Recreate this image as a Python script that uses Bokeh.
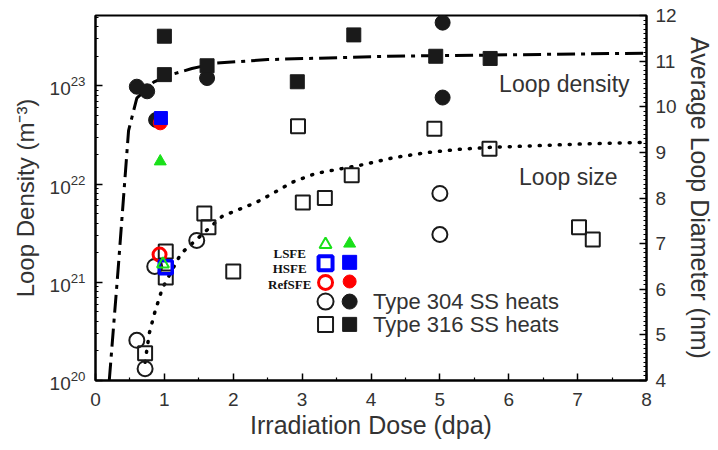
from bokeh.plotting import figure
from bokeh.models import Range1d, LinearAxis, FixedTicker, LogTicker, LinearScale
from bokeh.core.properties import value
from bokeh.embed import file_html
from bokeh.resources import INLINE

# ---------------- data ----------------
# loop density (left axis, m^-3)
d316_dens_dose = [1.0, 1.0, 1.62, 2.93, 3.75, 4.94, 5.73]
d316_dens = [3.2e23, 1.3e23, 1.6e23, 1.1e23, 3.3e23, 2.0e23, 1.9e23]
d304_dens_dose = [0.6, 0.75, 0.88, 1.62, 5.04, 5.04]
d304_dens = [9.8e22, 8.8e22, 4.5e22, 1.2e23, 4.4e23, 7.6e22]
# loop diameter (right axis, nm)
d304_size_dose = [0.6, 0.72, 0.86, 1.47, 5.0, 5.0]
d304_size = [4.88, 4.26, 6.5, 7.07, 8.1, 7.2]
d316_size_dose = [0.72, 1.02, 1.02, 1.58, 1.64, 2.0, 2.94, 3.01, 3.33, 3.72, 4.92, 5.72, 7.02, 7.22]
d316_size = [4.6, 6.83, 6.26, 7.66, 7.36, 6.39, 9.57, 7.9, 8.0, 8.5, 9.52, 9.08, 7.36, 7.09]
# SFE alloys
ref_dens_dose, ref_dens = [0.94], [4.2e22]
hsfe_dens_dose, hsfe_dens = [0.95], [4.7e22]
lsfe_dens_dose, lsfe_dens = [0.94], [1.7e22]
ref_size_dose, ref_size = [0.93], [6.76]
hsfe_size_dose, hsfe_size = [1.02], [6.48]
lsfe_size_dose, lsfe_size = [0.98], [6.55]
# trend curves
dens_curve_dose = [0.2, 0.33, 0.48, 0.6, 0.85, 1.1, 1.4, 1.75, 2.5, 4.25, 8.0]
dens_curve = [1.0e20, 1.4e21, 3.5e22, 7.5e22, 1.1e23, 1.3e23, 1.5e23, 1.7e23, 1.85e23, 2.0e23, 2.15e23]
size_curve_dose = [0.72, 0.78, 0.86, 0.97, 1.24, 1.84, 2.05, 2.33, 2.55, 2.85, 3.2, 3.82, 4.35, 4.83, 5.3, 5.73, 6.12, 7.0, 8.0]
size_curve = [4.4, 5.03, 5.49, 6.02, 6.78, 7.6, 7.73, 7.9, 8.08, 8.34, 8.54, 8.71, 8.89, 9.0, 9.07, 9.11, 9.13, 9.18, 9.22]

x_ticks = [0, 1, 2, 3, 4, 5, 6, 7, 8]
x_minor = [0.5, 1.5, 2.5, 3.5, 4.5, 5.5, 6.5, 7.5]
size_ticks = [4, 5, 6, 7, 8, 9, 10, 11, 12]

GREEN = "#19e019"
BLUE = "#0000ff"
RED = "#ff0000"
BLACK = "#1a1a1a"
FONT = "Liberation Sans"
TXT = "#333333"

p = figure(width=716, height=448, output_backend="svg", toolbar_location=None,
           y_axis_type="log", x_range=Range1d(0, 8), y_range=Range1d(1e20, 5.2e23),
           min_border_left=95, min_border_right=66, min_border_top=15, min_border_bottom=68)
p.extra_y_ranges = {"size": Range1d(4, 12)}
p.extra_y_scales = {"size": LinearScale()}
p.xgrid.visible = False
p.ygrid.visible = False
p.outline_line_color = "black"
p.outline_line_width = 2
p.background_fill_color = "white"
p.border_fill_color = "white"

right = LinearAxis(y_range_name="size")
p.add_layout(right, "right")

p.xaxis.axis_label = "Irradiation Dose (dpa)"
p.yaxis[0].axis_label = "Loop Density (m\u207b\u00b3)"
right.axis_label = "Average Loop Diameter (nm)"

p.xaxis.ticker = FixedTicker(ticks=x_ticks, minor_ticks=x_minor)
right.ticker = FixedTicker(ticks=size_ticks,
                           minor_ticks=[4 + i * 0.1 for i in range(81)])
p.yaxis[0].ticker = LogTicker(num_minor_ticks=10, desired_num_ticks=4)

for ax in [p.xaxis[0], p.yaxis[0], right]:
    ax.major_tick_in = 7
    ax.major_tick_out = 0
    ax.minor_tick_in = 3
    ax.minor_tick_out = 0
    ax.axis_line_width = 2
    ax.major_tick_line_width = 1.5
    ax.minor_tick_line_width = 1.2
    ax.major_label_text_font = FONT
    ax.major_label_text_font_size = "19px"
    ax.major_label_text_color = TXT
    ax.axis_label_text_font = FONT
    ax.axis_label_text_font_style = "normal"
    ax.axis_label_text_color = TXT
p.xaxis.axis_label_text_font_size = "25px"
p.yaxis[0].axis_label_text_font_size = "24px"
right.axis_label_text_font_size = "25px"
p.xaxis.major_label_standoff = 12
p.xaxis.axis_label_standoff = 2
p.yaxis[0].major_label_standoff = 10
p.yaxis[0].axis_label_standoff = 8
right.major_label_standoff = 9
right.axis_label_standoff = 6

# trend curves
p.line(dens_curve_dose, dens_curve, line_color="black", line_width=3, line_dash="18 6 4 6")
p.line(size_curve_dose, size_curve, y_range_name="size", line_color="black",
       line_width=3.5, line_dash="1 9", line_cap="round")

# size (open markers)
p.scatter(d304_size_dose, d304_size, y_range_name="size", marker="circle", size=15,
          fill_color="white", fill_alpha=0, line_color=BLACK, line_width=2)
p.scatter(d316_size_dose, d316_size, y_range_name="size", marker="square", size=14,
          fill_color="white", fill_alpha=0, line_color=BLACK, line_width=2)
# density (filled markers)
p.scatter(d304_dens_dose, d304_dens, marker="circle", size=15, fill_color=BLACK, line_color=BLACK)
p.scatter(d316_dens_dose, d316_dens, marker="square", size=14, fill_color=BLACK, line_color=BLACK)

# SFE alloys
p.scatter(ref_dens_dose, ref_dens, marker="circle", size=14, fill_color=RED, line_color=RED)
p.scatter(hsfe_dens_dose, hsfe_dens, marker="square", size=13, fill_color=BLUE, line_color=BLUE)
p.scatter(lsfe_dens_dose, lsfe_dens, marker="triangle", size=12, fill_color=GREEN, line_color=GREEN)
p.scatter(ref_size_dose, ref_size, y_range_name="size", marker="circle", size=13,
          fill_alpha=0, line_color=RED, line_width=3)
p.scatter(hsfe_size_dose, hsfe_size, y_range_name="size", marker="square", size=13,
          fill_alpha=0, line_color=BLUE, line_width=3.5)
p.scatter(lsfe_size_dose, lsfe_size, y_range_name="size", marker="triangle", size=12,
          fill_alpha=0, line_color=GREEN, line_width=2)

# curve labels
p.text([5.86], [1.04e23], text=["Loop density"], text_font=value(FONT), text_font_size="23px",
       text_color=TXT, text_baseline="middle", text_align="left")
p.text([6.15], [8.45], y_range_name="size", text=["Loop size"], text_font=value(FONT),
       text_font_size="23px", text_color=TXT, text_baseline="middle", text_align="left")

# custom legend
leg_open_x = [3.34]
leg_fill_x = [3.69]
p.scatter(leg_open_x, [6.98], y_range_name="size", marker="triangle", size=12,
          fill_alpha=0, line_color=GREEN, line_width=2)
p.scatter(leg_fill_x, [7.0], y_range_name="size", marker="triangle", size=12,
          fill_color=GREEN, line_color=GREEN)
p.scatter(leg_open_x, [6.57], y_range_name="size", marker="square", size=14,
          fill_alpha=0, line_color=BLUE, line_width=4)
p.scatter(leg_fill_x, [6.59], y_range_name="size", marker="square", size=14,
          fill_color=BLUE, line_color=BLUE)
p.scatter(leg_open_x, [6.15], y_range_name="size", marker="circle", size=14,
          fill_alpha=0, line_color=RED, line_width=3)
p.scatter(leg_fill_x, [6.17], y_range_name="size", marker="circle", size=13,
          fill_color=RED, line_color=RED)
p.scatter(leg_open_x, [5.73], y_range_name="size", marker="circle", size=16,
          fill_alpha=0, line_color=BLACK, line_width=2)
p.scatter(leg_fill_x, [5.73], y_range_name="size", marker="circle", size=15,
          fill_color=BLACK, line_color=BLACK)
p.scatter(leg_open_x, [5.23], y_range_name="size", marker="square", size=15,
          fill_alpha=0, line_color=BLACK, line_width=2)
p.scatter(leg_fill_x, [5.23], y_range_name="size", marker="square", size=14,
          fill_color=BLACK, line_color=BLACK)
p.text([2.82, 2.82, 2.82], [6.79, 6.46, 6.1], y_range_name="size",
       text=["LSFE", "HSFE", "RefSFE"], text_font=value("Liberation Serif"),
       text_font_style="bold", text_font_size="13px", text_color="#111111",
       text_align="center", text_baseline="middle")
p.text([4.03, 4.03], [5.73, 5.23], y_range_name="size",
       text=["Type 304 SS heats", "Type 316 SS heats"], text_font=value(FONT),
       text_font_size="22px", text_color=TXT, text_align="left", text_baseline="middle")

open("out.html", "w").write(file_html(p, INLINE))
